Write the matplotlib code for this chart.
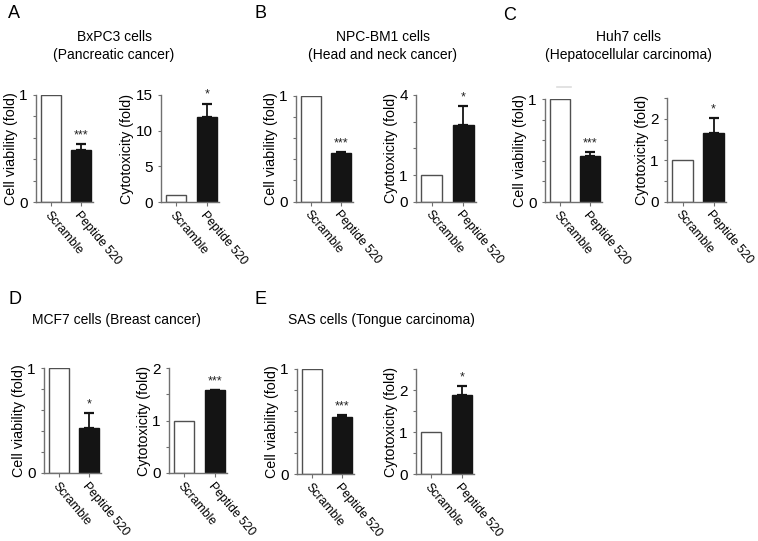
import matplotlib
matplotlib.use("Agg")
import matplotlib.pyplot as plt
from matplotlib.lines import Line2D

plt.rcParams['font.family'] = ['Liberation Sans', 'DejaVu Sans']

categories = ["Scramble", "Peptide 520"]
panel_letters = ["A", "B", "C", "D", "E"]
panel_titles = ["BxPC3 cells\n(Pancreatic cancer)",
                "NPC-BM1 cells\n(Head and neck cancer)",
                "Huh7 cells\n(Hepatocellular carcinoma)",
                "MCF7 cells (Breast cancer)",
                "SAS cells (Tongue carcinoma)"]

viability_A = [1.0, 0.49]
viability_B = [1.0, 0.455]
viability_C = [1.0, 0.45]
viability_D = [1.0, 0.43]
viability_E = [1.0, 0.545]
viability_err = [0.05, 0.01, 0.04, 0.14, 0.02]
viability_sig = ["***", "***", "***", "*", "***"]

cytotox_A = [1.0, 11.9]
cytotox_B = [1.0, 2.88]
cytotox_C = [1.0, 1.67]
cytotox_D = [1.0, 1.575]
cytotox_E = [1.0, 1.88]
cytotox_err = [1.9, 0.72, 0.36, 0.01, 0.22]
cytotox_sig = ["*", "*", "*", "***", "*"]

viab_ticks = [0, 1]
viab_minor = [0.2, 0.4, 0.6, 0.8]
cyto_ylim = [15, 4, 2.5, 2, 2.5]
cyto_ticks = [[0, 5, 10, 15], [0, 1, 4], [0, 1, 2], [0, 1, 2], [0, 1, 2]]
cyto_minor = [[], [2, 3], [0.5, 1.5, 2.5], [0.5, 1.5], [0.5, 1.5, 2.5]]

viabilities = [viability_A, viability_B, viability_C, viability_D, viability_E]
cytotoxes = [cytotox_A, cytotox_B, cytotox_C, cytotox_D, cytotox_E]

W, H = 758, 541
fig = plt.figure(figsize=(W / 100, H / 100), dpi=100)

# axes boxes in pixels: (x0, x1, ytop, ybottom)
viab_boxes = [(36, 93, 95, 202), (296, 353, 95.5, 201.7), (545, 602, 99, 202),
              (44, 101, 368, 473), (297, 354, 369, 474)]
cyto_boxes = [(161, 219, 95, 202), (416, 476, 95, 201.7), (667, 726, 98.3, 201.7),
              (169, 227, 368, 473), (416, 474, 369, 474)]
letter_pos = [(8, 14), (255, 14), (503, 15), (8, 299), (255, 299)]
title_pos = [(114, 46), (383, 46), (628, 46), (116, 320), (381, 320)]

SPINE = '#707070'
EDGE = '#505050'


def make_ax(box):
    x0, x1, yt, yb = box
    return fig.add_axes([x0 / W, 1 - yb / H, (x1 - x0) / W, (yb - yt) / H])


def draw(ax, vals, err, sig, ymax, ticks, minor, ylabel):
    xs = [0, 1]
    ax.bar(xs, vals, width=0.667, color=['white', '#141414'],
           edgecolor=[EDGE, '#141414'], linewidth=1.0, zorder=2)
    ax.errorbar([1], [vals[1]], yerr=[[0], [err]], fmt='none', ecolor='#141414',
                elinewidth=1.3, capsize=3.4, capthick=1.6, zorder=3)
    ax.text(1, vals[1] + err + ymax * 0.025, sig, ha='center', va='bottom',
            fontsize=9, color='#222222')
    ax.set_xlim(-0.5, 1.4)
    ax.set_ylim(0, ymax)
    ax.set_yticks(ticks)
    ax.set_yticklabels([str(t) for t in ticks], fontsize=11)
    ax.set_yticks(minor, minor=True)
    ax.set_xticks(xs)
    ax.set_xticklabels(categories, rotation=-50, ha='left', va='top',
                       rotation_mode='anchor', fontsize=8.8)
    ax.tick_params(axis='x', length=3, width=0.8, color=SPINE, pad=2)
    ax.tick_params(axis='y', which='major', length=2, width=0.8, color=SPINE, pad=4)
    ax.tick_params(axis='y', which='minor', length=2, width=0.8, color=SPINE)
    for s in ['top', 'right']:
        ax.spines[s].set_visible(False)
    for s in ['left', 'bottom']:
        ax.spines[s].set_color(SPINE)
        ax.spines[s].set_linewidth(1.0)
    ax.set_ylabel(ylabel, fontsize=10.3, labelpad=1)


for i in range(5):
    axv = make_ax(viab_boxes[i])
    draw(axv, viabilities[i], viability_err[i], viability_sig[i], 1.0,
         viab_ticks, viab_minor, "Cell viability (fold)")
    axc = make_ax(cyto_boxes[i])
    draw(axc, cytotoxes[i], cytotox_err[i], cytotox_sig[i], cyto_ylim[i],
         cyto_ticks[i], cyto_minor[i], "Cytotoxicity (fold)")
    lx, ly = letter_pos[i]
    fig.text(lx / W, 1 - ly / H, panel_letters[i], fontsize=13, ha='left', va='center')
    tx, ty = title_pos[i]
    fig.text(tx / W, 1 - ty / H, panel_titles[i], fontsize=10, ha='center',
             va='center', linespacing=1.3)

# faint artefact above panel C viability
fig.add_artist(Line2D([557 / W, 571 / W], [1 - 87 / H, 1 - 87 / H],
                      color='#dddddd', linewidth=1.2))

fig.savefig("out.png", dpi=100)
